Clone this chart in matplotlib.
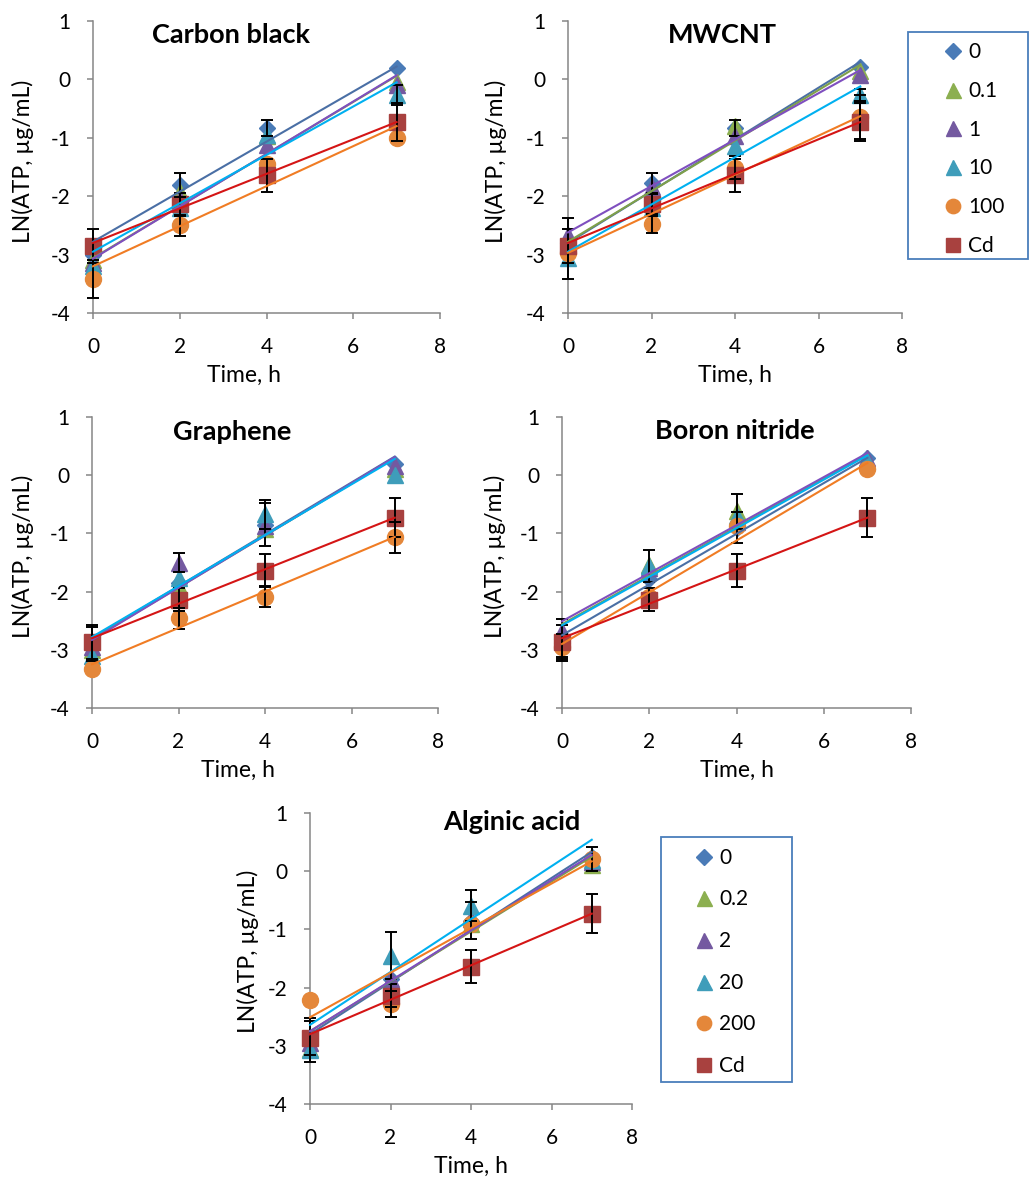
import matplotlib
matplotlib.use("Agg")
import matplotlib.pyplot as plt
from matplotlib.lines import Line2D
from matplotlib.patches import Rectangle
import numpy as np

plt.rcParams['font.family'] = ['Lato', 'DejaVu Sans']
plt.rcParams['axes.unicode_minus'] = False

# sampling times and trendline span
time_h = [0, 2, 4, 7]
fit_t = [0, 7]

labels_a = ["0", "0.1", "1", "10", "100", "Cd"]
labels_b = ["0", "0.2", "2", "20", "200", "Cd"]

# Cd control, same in every panel
cd_vals = [-2.86, -2.14, -1.64, -0.73]
cd_err = [0.29, 0.20, 0.28, 0.33]
cd_fit = [-2.80, -0.73]

# Carbon black
cb_vals = [[-3.00, -1.81, -0.83, 0.19],
           [-3.10, -1.93, -0.97, -0.05],
           [-3.15, -2.05, -1.12, -0.09],
           [-3.20, -2.20, -0.95, -0.27],
           [-3.42, -2.50, -1.45, -1.00],
           cd_vals]
cb_err = [[0, 0.20, 0.14, 0], [0, 0, 0, 0], [0, 0, 0, 0],
          [0, 0, 0, 0.17], [0.33, 0.18, 0, 0], cd_err]
cb_fit = [[-2.78, 0.22], [-3.06, 0.06], [-3.07, 0.07],
          [-2.95, -0.05], [-3.20, -0.80], cd_fit]

# MWCNT
mw_vals = [[-2.90, -1.78, -0.83, 0.22],
           [-2.80, -1.95, -0.80, 0.15],
           [-2.66, -1.85, -0.97, 0.08],
           [-3.05, -2.20, -1.14, -0.27],
           [-2.97, -2.47, -1.51, -0.64],
           cd_vals]
mw_err = [[0.52, 0.18, 0.14, 0], [0, 0, 0, 0], [0, 0, 0, 0],
          [0, 0, 0, 0.10], [0, 0.16, 0.20, 0.38], cd_err]
mw_fit = [[-2.80, 0.30], [-2.78, 0.25], [-2.62, 0.16],
          [-2.95, -0.12], [-2.97, -0.63], cd_fit]

# Graphene
gr_vals = [[-2.90, -1.85, -0.85, 0.20],
           [-3.00, -1.90, -0.93, 0.10],
           [-2.95, -1.50, -0.87, 0.15],
           [-3.10, -1.76, -0.67, 0.01],
           [-3.33, -2.46, -2.09, -1.07],
           cd_vals]
gr_err = [[0.30, 0, 0.37, 0], [0, 0, 0, 0], [0, 0.16, 0, 0],
          [0, 0, 0.25, 0], [0, 0.18, 0.18, 0.27], cd_err]
gr_fit = [[-2.80, 0.32], [-2.82, 0.30], [-2.83, 0.31],
          [-2.78, 0.28], [-3.25, -1.06], cd_fit]

# Boron nitride
bn_vals = [[-2.80, -1.79, -0.90, 0.30],
           [-2.75, -1.55, -0.62, 0.25],
           [-2.67, -1.60, -0.80, 0.30],
           [-2.85, -1.56, -0.70, 0.24],
           [-2.96, -2.10, -0.87, 0.10],
           cd_vals]
bn_err = [[0.33, 0, 0.26, 0], [0, 0, 0.30, 0], [0, 0, 0, 0],
          [0, 0.28, 0, 0], [0.23, 0, 0, 0], cd_err]
bn_fit = [[-2.75, 0.30], [-2.56, 0.36], [-2.51, 0.38],
          [-2.58, 0.34], [-2.90, 0.21], cd_fit]

# Alginic acid
al_vals = [[-2.90, -1.85, -0.85, 0.25],
           [-3.05, -1.95, -0.90, 0.10],
           [-2.95, -1.85, -0.82, 0.15],
           [-3.08, -1.45, -0.59, 0.20],
           [-2.22, -2.28, -0.90, 0.21],
           cd_vals]
al_err = [[0.38, 0, 0.32, 0], [0, 0, 0, 0], [0, 0, 0, 0],
          [0, 0.40, 0.27, 0], [0, 0.22, 0, 0.21], cd_err]
al_fit = [[-2.80, 0.33], [-2.75, 0.25], [-2.75, 0.28],
          [-2.64, 0.54], [-2.51, 0.17], cd_fit]

# styles
markers = ['D', '^', '^', '^', 'o', 's']
msizes = [8.5, 12, 12, 12, 11.5, 11.5]
mcolors = ['#4A7BB7', '#8CAF50', '#7459A0', '#3F9DBA', '#E4873A', '#A8413F']
lcolors = ['#4A6FA5', '#7FA04A', '#7F4FBF', '#00B0F0', '#F07C24', '#D41515']
gray = '#868686'

W, H = 1032, 1178
fig = plt.figure(figsize=(W / 100, H / 100), dpi=100)


def make_ax(x0, x1, y0, y1):
    return fig.add_axes([x0 / W, 1 - y1 / H, (x1 - x0) / W, (y1 - y0) / H])


def draw_panel(ax, title, vals, errs, fits, tpos, ylx, xlx):
    t = np.array(time_h)
    for i in range(6):
        ax.plot(t, vals[i], ls='none', marker=markers[i], ms=msizes[i],
                color=mcolors[i], mec=mcolors[i], zorder=3, clip_on=False)
    for i in range(6):
        e = np.array(errs[i], dtype=float)
        m = e > 0
        if m.any():
            ax.errorbar(t[m], np.array(vals[i])[m], yerr=e[m], fmt='none',
                        ecolor='black', elinewidth=1.4, capsize=4,
                        capthick=1.4, zorder=4, clip_on=False)
    for i in range(6):
        ax.plot(fit_t, fits[i], color=lcolors[i], lw=1.5, zorder=5,
                clip_on=False)

    ax.set_xlim(0, 8)
    ax.set_ylim(-4, 1)
    ax.set_xticks([0, 2, 4, 6, 8])
    ax.set_yticks([-4, -3, -2, -1, 0, 1])
    ax.spines[["right", "top"]].set_visible(False)
    for s in ["left", "bottom"]:
        ax.spines[s].set_color(gray)
        ax.spines[s].set_linewidth(1.1)
    ax.tick_params(direction='out', length=4.3, width=1.1, color=gray,
                   labelsize=15, labelcolor='black')
    ax.tick_params(axis='x', pad=13)
    ax.tick_params(axis='y', pad=12)

    ax.text(tpos[0], tpos[1], title, transform=ax.transAxes, ha='center',
            va='baseline', fontsize=19.5, fontweight='bold')
    ax.text(ylx[0], ylx[1], "LN(ATP, µg/mL)", transform=ax.transAxes,
            rotation=90, ha='center', va='center', fontsize=16.5)
    ax.text(xlx, -0.237, "Time, h", transform=ax.transAxes, ha='center',
            va='baseline', fontsize=16.5)


ax1 = make_ax(93, 440, 21, 313)
draw_panel(ax1, "Carbon black", cb_vals, cb_err, cb_fit,
           (0.398, 0.925), (-0.202, 0.52), 0.435)
ax2 = make_ax(568, 902, 21, 313)
draw_panel(ax2, "MWCNT", mw_vals, mw_err, mw_fit,
           (0.461, 0.924), (-0.216, 0.52), 0.5)
ax3 = make_ax(92, 438, 417, 708)
draw_panel(ax3, "Graphene", gr_vals, gr_err, gr_fit,
           (0.404, 0.922), (-0.199, 0.52), 0.422)
ax4 = make_ax(562, 911, 417, 708)
draw_panel(ax4, "Boron nitride", bn_vals, bn_err, bn_fit,
           (0.495, 0.924), (-0.193, 0.52), 0.5)
ax5 = make_ax(310, 632, 813, 1104)
draw_panel(ax5, "Alginic acid", al_vals, al_err, al_fit,
           (0.627, 0.940), (-0.192, 0.526), 0.5)


def legend_box(labels, box, first_row, handle_left, spacing):
    x0, x1, y0, y1 = box
    fig.patches.append(Rectangle((x0 / W, 1 - y1 / H), (x1 - x0) / W,
                                 (y1 - y0) / H, transform=fig.transFigure,
                                 fill=False, ec='#4A7EBB', lw=1.3))
    handles = [Line2D([], [], ls='none', marker=markers[i], ms=msizes[i] * 0.9,
                      color=mcolors[i]) for i in range(6)]
    fig.legend(handles, labels, loc='upper left',
               bbox_to_anchor=(handle_left / W, 1 - (first_row - 9.5) / H),
               frameon=False, fontsize=15, labelspacing=spacing,
               handlelength=1.0, handletextpad=0.22, borderpad=0,
               borderaxespad=0)


legend_box(labels_a, (908, 1028, 32, 259), 51.7, 942.6, 0.9)
legend_box(labels_b, (661, 792, 837, 1082), 857.3, 693.9, 1.04)

fig.savefig("out.png", dpi=100)
